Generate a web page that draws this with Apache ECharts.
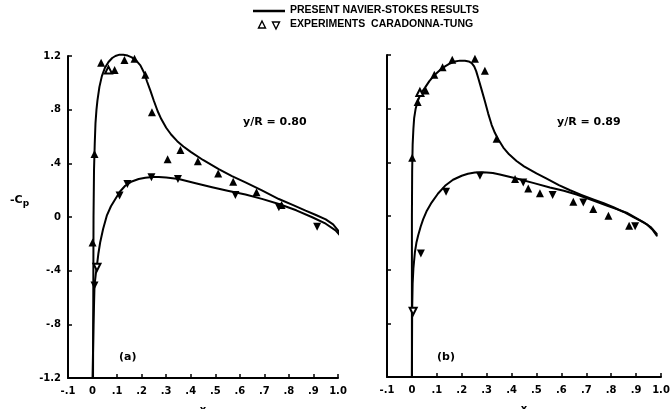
<!DOCTYPE html>
<html>
<head>
<meta charset="utf-8">
<script src="https://cdn.jsdelivr.net/npm/echarts@6/dist/echarts.min.js"></script>
<style>
html,body{margin:0;padding:0;background:#fff;}
#c{width:672px;height:409px;}
</style>
</head>
<body>
<div id="c"></div>
<script>
// ---- tick labels ----
const xTickLabels = ['-.1','0','.1','.2','.3','.4','.5','.6','.7','.8','.9','1.0'];
const yTickLabels = ['-1.2','-.8','-.4','0','.4','.8','1.2'];

// ---- panel (a) y/R = 0.80 : computed curves ----
const aUpperCurve = [[0.002,-1.2],[0.004,0.0],[0.006,0.35],[0.009,0.55],[0.012,0.7],[0.016,0.8],[0.02,0.87],[0.028,0.97],[0.038,1.05],[0.05,1.11],[0.065,1.155],[0.08,1.185],[0.093,1.20],[0.11,1.21],[0.125,1.21],[0.143,1.203],[0.16,1.19],[0.178,1.165],[0.195,1.13],[0.21,1.075],[0.222,1.01],[0.236,0.94],[0.249,0.87],[0.265,0.79],[0.28,0.73],[0.30,0.665],[0.32,0.615],[0.345,0.565],[0.37,0.525],[0.40,0.485],[0.45,0.425],[0.514,0.357],[0.568,0.305],[0.623,0.258],[0.69,0.198],[0.759,0.134],[0.815,0.09],[0.868,0.047],[0.91,0.015],[0.95,-0.018],[0.98,-0.055],[1.0,-0.10],[1.01,-0.14]];
const aLowerCurve = [[0.0,-1.2],[0.004,-0.8],[0.008,-0.51],[0.013,-0.43],[0.018,-0.36],[0.024,-0.27],[0.031,-0.19],[0.043,-0.09],[0.058,0.01],[0.075,0.08],[0.093,0.134],[0.112,0.19],[0.133,0.233],[0.16,0.265],[0.188,0.283],[0.215,0.293],[0.245,0.298],[0.27,0.298],[0.30,0.295],[0.351,0.283],[0.42,0.252],[0.487,0.222],[0.55,0.196],[0.623,0.168],[0.69,0.135],[0.759,0.097],[0.83,0.05],[0.895,-0.002],[0.95,-0.05],[0.99,-0.10],[1.01,-0.14]];
// ---- panel (a) experiments ----
const aUpperExp = [[0.0,-0.19],[0.008,0.47],[0.035,1.15],[0.09,1.095],[0.13,1.17],[0.171,1.18],[0.215,1.06],[0.242,0.78],[0.306,0.43],[0.358,0.50],[0.429,0.415],[0.512,0.325],[0.573,0.263],[0.668,0.184],[0.77,0.09]];
const aUpperExpOpen = [[0.065,1.095]];
const aLowerExp = [[0.008,-0.51],[0.11,0.16],[0.142,0.246],[0.24,0.296],[0.348,0.283],[0.582,0.164],[0.759,0.072],[0.915,-0.072]];
const aLowerExpOpen = [[0.018,-0.375]];

// ---- panel (b) y/R = 0.89 : computed curves ----
const bUpperCurve = [[0.0,-1.2],[0.0,0.0],[0.001,0.336],[0.003,0.534],[0.006,0.65],[0.009,0.73],[0.015,0.8],[0.023,0.855],[0.035,0.91],[0.052,0.955],[0.07,1.005],[0.092,1.053],[0.112,1.087],[0.133,1.115],[0.153,1.137],[0.173,1.152],[0.193,1.158],[0.213,1.157],[0.228,1.152],[0.24,1.14],[0.25,1.115],[0.258,1.08],[0.266,1.03],[0.28,0.94],[0.293,0.855],[0.306,0.765],[0.32,0.68],[0.333,0.62],[0.347,0.57],[0.367,0.51],[0.39,0.46],[0.42,0.41],[0.45,0.37],[0.50,0.317],[0.541,0.278],[0.59,0.23],[0.635,0.192],[0.68,0.158],[0.728,0.124],[0.77,0.095],[0.809,0.065],[0.85,0.03],[0.889,-0.008],[0.92,-0.038],[0.945,-0.065],[0.965,-0.1],[0.983,-0.146]];
const bLowerCurve = [[0.0,-1.2],[0.001,-0.7],[0.003,-0.5],[0.006,-0.39],[0.012,-0.27],[0.018,-0.2],[0.025,-0.146],[0.035,-0.08],[0.045,-0.025],[0.06,0.04],[0.079,0.10],[0.105,0.168],[0.133,0.225],[0.165,0.27],[0.2,0.30],[0.225,0.315],[0.253,0.324],[0.28,0.327],[0.30,0.325],[0.325,0.32],[0.353,0.31],[0.42,0.28],[0.49,0.245],[0.554,0.213],[0.61,0.188],[0.661,0.16],[0.72,0.12],[0.782,0.077],[0.862,0.025],[0.929,-0.045],[0.96,-0.085],[0.983,-0.134]];
// ---- panel (b) experiments ----
const bUpperExp = [[0.001,0.435],[0.023,0.85],[0.055,0.935],[0.09,1.053],[0.123,1.108],[0.162,1.165],[0.253,1.172],[0.293,1.083],[0.34,0.576],[0.414,0.275],[0.467,0.205],[0.514,0.17],[0.648,0.106],[0.728,0.052],[0.789,0.002],[0.872,-0.072]];
const bUpperExpOpen = [[0.032,0.92],[0.202,1.214]];
const bLowerExp = [[0.036,-0.28],[0.137,0.18],[0.273,0.30],[0.447,0.25],[0.565,0.156],[0.688,0.10],[0.896,-0.076]];
const bLowerExpOpen = [[0.005,-0.71]];

const FONT = 'DejaVu Sans';
const chart = echarts.init(document.getElementById('c'));

function xAxisCfg(gi){
  return {
    gridIndex: gi, type:'value', min:-0.1, max:1.0, interval:0.1,
    name: 'x', nameLocation:'middle', nameGap:27,
    nameTextStyle:{fontFamily:FONT,fontWeight:'bold',fontSize:10,color:'#000'},
    axisLine:{show:true,onZero:false,lineStyle:{color:'#000',width:2}},
    axisTick:{show:true,inside:true,length:4,lineStyle:{color:'#000',width:1.5}},
    axisLabel:{show:true,margin:8,fontFamily:FONT,fontWeight:'bold',fontSize:10,color:'#000',
      formatter:(v)=>xTickLabels[Math.round((v+0.1)*10)]},
    splitLine:{show:false}
  };
}
function yAxisCfg(gi, showLabels){
  return {
    gridIndex: gi, type:'value', min:-1.2, max:1.2, interval:0.4,
    axisLine:{show:true,onZero:false,lineStyle:{color:'#000',width:2}},
    axisTick:{show:true,inside:true,length:4,lineStyle:{color:'#000',width:1.5}},
    axisLabel:{show:showLabels,margin:7,fontFamily:FONT,fontWeight:'bold',fontSize:10,color:'#000',
      formatter:(v)=>yTickLabels[Math.round((v+1.2)/0.4)]},
    splitLine:{show:false}
  };
}
function curve(data, gi){
  return {type:'line', xAxisIndex:gi, yAxisIndex:gi, data:data, showSymbol:false, symbol:'none',
    smooth:false, clip:false, lineStyle:{color:'#000',width:2,join:'round',cap:'round'}, z:2, silent:true};
}
function pts(data, gi, open, down){
  return {type:'scatter', xAxisIndex:gi, yAxisIndex:gi, data:data,
    symbol: open ? 'emptyTriangle' : 'triangle', symbolSize: open ? 7 : 8, symbolRotate: down ? 180 : 0,
    itemStyle:{color:'#000', borderColor:'#000', borderWidth: open ? 1.4 : 0, opacity:1}, z:5, silent:true};
}

const option = {
  backgroundColor:'#fff',
  animation:false,
  grid:[
    {left:68, top:56, width:270, height:322, containLabel:false, outerBoundsMode:'none'},
    {left:387, top:55, width:274, height:322, containLabel:false, outerBoundsMode:'none'}
  ],
  xAxis:[xAxisCfg(0), xAxisCfg(1)],
  yAxis:[yAxisCfg(0,true), yAxisCfg(1,false)],
  series:[
    curve(aUpperCurve,0), curve(aLowerCurve,0),
    pts(aUpperExp,0,false,false), pts(aUpperExpOpen,0,true,false),
    pts(aLowerExp,0,false,true), pts(aLowerExpOpen,0,true,true),
    curve(bUpperCurve,1), curve(bLowerCurve,1),
    pts(bUpperExp,1,false,false), pts(bUpperExpOpen,1,true,false),
    pts(bLowerExp,1,false,true), pts(bLowerExpOpen,1,true,true)
  ],
  graphic:[
    {type:'line', shape:{x1:253,y1:11,x2:285,y2:11}, style:{stroke:'#000',lineWidth:2.5}},
    {type:'text', left:290, top:5, style:{text:'PRESENT NAVIER-STOKES RESULTS', fontFamily:'Liberation Sans', fontWeight:'bold', fontSize:10.5, fill:'#000'}},
    {type:'polygon', shape:{points:[[262,21],[258.5,28],[265.5,28]]}, style:{fill:'#fff',stroke:'#000',lineWidth:1.4}},
    {type:'polygon', shape:{points:[[272.5,22],[279.5,22],[276,29]]}, style:{fill:'#fff',stroke:'#000',lineWidth:1.4}},
    {type:'text', left:290, top:19, style:{text:'EXPERIMENTS  CARADONNA-TUNG', fontFamily:'Liberation Sans', fontWeight:'bold', fontSize:10.5, fill:'#000'}},
    {type:'text', left:243, top:117, style:{text:'y/R = 0.80', fontFamily:FONT, fontWeight:'bold', fontSize:11, fill:'#000'}},
    {type:'text', left:557, top:117, style:{text:'y/R = 0.89', fontFamily:FONT, fontWeight:'bold', fontSize:11, fill:'#000'}},
    {type:'text', left:119, top:352, style:{text:'(a)', fontFamily:FONT, fontWeight:'bold', fontSize:11, fill:'#000'}},
    {type:'text', left:437, top:352, style:{text:'(b)', fontFamily:FONT, fontWeight:'bold', fontSize:11, fill:'#000'}},
    {type:'text', left:10, top:195, style:{text:'-C{s|p}', rich:{s:{fontFamily:FONT,fontWeight:'bold',fontSize:9,padding:[6,0,0,0]}}, fontFamily:FONT, fontWeight:'bold', fontSize:11, fill:'#000'}}
  ]
};
chart.setOption(option);
</script>
</body>
</html>
